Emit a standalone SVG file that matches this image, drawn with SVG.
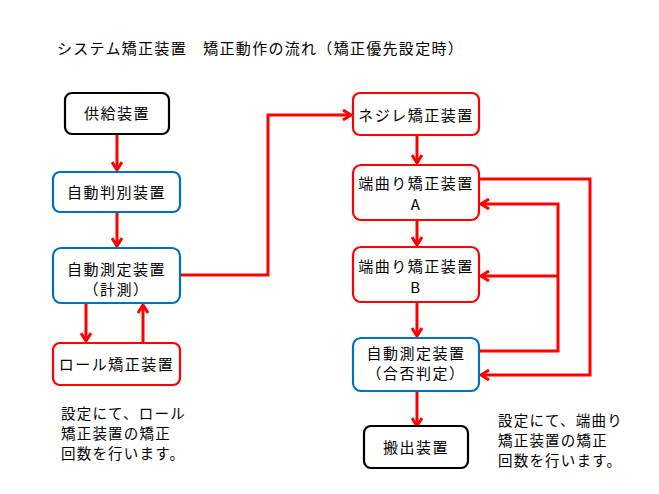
<svg xmlns="http://www.w3.org/2000/svg" width="659" height="494" viewBox="0 0 659 494">
<style>
text{font-family:"Noto Sans CJK JP","Noto Sans CJK SC",sans-serif;fill:#000}
.t{font-size:15px;text-anchor:middle;letter-spacing:1.5px}
.n{font-size:14.5px;letter-spacing:1.2px}
.box{fill:#fff;stroke-width:2.2}
.blk{stroke:#000}
.blu{stroke:#0070c0}
.red{stroke:#ff0000}
.c{fill:none;stroke:#ff0000;stroke-width:3;stroke-linejoin:miter}
</style>
<defs>
<marker id="ah" viewBox="0 0 12 12" refX="10" refY="6" markerWidth="12" markerHeight="12" markerUnits="userSpaceOnUse" orient="auto">
<polyline points="2,1 10,6 2,11" fill="none" stroke="#ff0000" stroke-width="3"/>
</marker>
</defs>
<rect width="659" height="494" fill="#fff"/>
<text x="57" y="54" style="font-size:15px;letter-spacing:1.3px">システム矯正装置　矯正動作の流れ（矯正優先設定時）</text>

<g id="connectors">
<line class="c" x1="117" y1="135" x2="117" y2="170" marker-end="url(#ah)"/>
<line class="c" x1="117" y1="213" x2="117" y2="246" marker-end="url(#ah)"/>
<line class="c" x1="86" y1="304" x2="86" y2="341" marker-end="url(#ah)"/>
<line class="c" x1="143" y1="343" x2="143" y2="305" marker-end="url(#ah)"/>
<polyline class="c" points="180,275 268,275 268,115 351,115" marker-end="url(#ah)"/>
<line class="c" x1="417" y1="135" x2="417" y2="163" marker-end="url(#ah)"/>
<line class="c" x1="417" y1="220" x2="417" y2="245" marker-end="url(#ah)"/>
<line class="c" x1="417" y1="302" x2="417" y2="336" marker-end="url(#ah)"/>
<line class="c" x1="417" y1="391" x2="417" y2="426" marker-end="url(#ah)"/>
<polyline class="c" points="479,179 590,179 590,375 481,375" marker-end="url(#ah)"/>
<polyline class="c" points="479,351 558,351 558,204 481,204" marker-end="url(#ah)"/>
<line class="c" x1="558" y1="276" x2="481" y2="276" marker-end="url(#ah)"/>
</g>

<g id="supply"><rect class="box blk" x="65" y="93" width="104" height="41" rx="7"/><text class="t" x="117" y="119">供給装置</text></g>
<g id="auto-detect"><rect class="box blu" x="53" y="172" width="127" height="40" rx="7"/><text class="t" x="116.5" y="198">自動判別装置</text></g>
<g id="auto-measure1"><rect class="box blu" x="53" y="248" width="127" height="55" rx="8"/><text class="t" x="116.5" y="275">自動測定装置</text><text class="t" x="116.5" y="295">（計測）</text></g>
<g id="roll"><rect class="box red" x="53" y="343" width="127" height="42" rx="7"/><text class="t" x="116.5" y="370">ロール矯正装置</text></g>
<g id="twist"><rect class="box red" x="353" y="93" width="126" height="42" rx="7"/><text class="t" x="416" y="121">ネジレ矯正装置</text></g>
<g id="endbend-a"><rect class="box red" x="353" y="165" width="126" height="55" rx="8"/><text class="t" x="416" y="189">端曲り矯正装置</text><text class="t" x="416" y="210">A</text></g>
<g id="endbend-b"><rect class="box red" x="353" y="247" width="126" height="55" rx="8"/><text class="t" x="416" y="272">端曲り矯正装置</text><text class="t" x="416" y="293">B</text></g>
<g id="auto-measure2"><rect class="box blu" x="353" y="338" width="126" height="53" rx="8"/><text class="t" x="416" y="359">自動測定装置</text><text class="t" x="416" y="379">（合否判定）</text></g>
<g id="unload"><rect class="box blk" x="364" y="426" width="104" height="42" rx="7"/><text class="t" x="416" y="453">搬出装置</text></g>

<g id="note-left" class="n"><text x="61" y="419">設定にて、ロール</text><text x="61" y="439">矯正装置の矯正</text><text x="61" y="459">回数を行います。</text></g>
<g id="note-right" class="n"><text x="498" y="426">設定にて、端曲り</text><text x="498" y="446">矯正装置の矯正</text><text x="498" y="466">回数を行います。</text></g>
</svg>
